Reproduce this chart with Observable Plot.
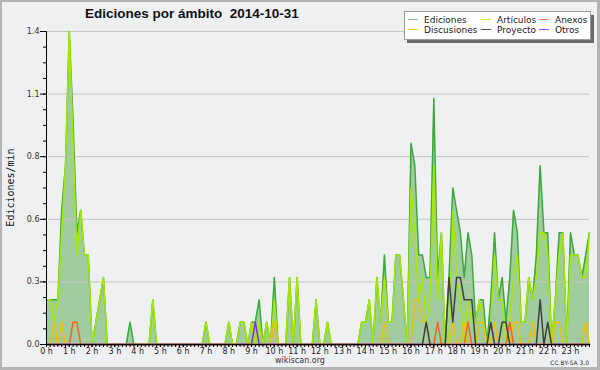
<!DOCTYPE html>
<html><head><meta charset="utf-8">
<script src="https://cdn.jsdelivr.net/npm/d3@7"></script>
<script src="https://cdn.jsdelivr.net/npm/@observablehq/plot@0.6"></script>
<style>
html,body{margin:0;padding:0;background:#fff}
#wrap{position:relative;width:600px;height:370px;background:#eff0f1;overflow:hidden}
#chart{position:absolute;left:0;top:0}
#overlay{position:absolute;left:0;top:0}
#border{position:absolute;left:0;top:0;width:600px;height:370px;box-sizing:border-box;border:2px solid #b4b4b4;border-right-width:3px;border-bottom-width:3px}
</style></head><body>
<div id="wrap"><div id="chart"></div><svg id="overlay" width="600" height="370"></svg><div id="border"></div></div>
<script>
const title = "Ediciones por ámbito  2014-10-31";
const yLabel = "Ediciones/min";
const footer = "wikiscan.org";
const license = "CC BY-SA 3.0";
const hourLabels = ["0 h","1 h","2 h","3 h","4 h","5 h","6 h","7 h","8 h","9 h","10 h","11 h",
  "12 h","13 h","14 h","15 h","16 h","17 h","18 h","19 h","20 h","21 h","22 h","23 h"];
const yTicks = [0, 0.28, 0.56, 0.84, 1.12, 1.4];
const seriesNames = ["Ediciones","Artículos","Anexos","Discusiones","Proyecto","Otros"];

// one value per 10 minutes, one row per hour
const ediciones = [
  0.2,0.2,0.2,0.2,0.6,0.8,
  1.4,1.0,0.5,0.6,0.4,0.4,
  0,0.1,0.2,0.3,0,0,
  0,0,0,0,0.1,0,
  0,0,0,0,0.2,0,
  0,0,0,0,0,0,
  0,0,0,0,0,0,
  0.1,0,0,0,0,0,
  0.1,0,0,0.1,0.1,0,
  0.1,0.1,0.2,0,0.1,0,
  0.3,0,0,0,0.3,0,
  0.3,0,0,0,0,0.2,
  0,0,0.1,0,0,0,
  0,0,0,0,0,0.1,
  0.1,0.2,0,0.3,0.1,0.4,
  0.1,0.1,0.4,0.4,0.2,0,
  0.9,0.8,0.4,0.4,0.3,0.3,
  1.1,0.3,0.5,0,0.3,0.7,
  0.6,0.5,0.3,0.5,0.4,0.1,
  0.2,0.2,0,0.2,0.5,0.2,
  0.3,0.1,0.3,0.6,0.5,0.1,
  0.1,0.3,0.2,0.4,0.8,0.5,
  0.5,0,0.2,0.5,0.5,0,
  0.5,0.4,0.4,0.3,0.4,0.5
];
const articulos = [
  0.2,0.2,0.1,0.2,0.5,0.8,
  1.4,0.9,0.4,0.6,0.4,0.4,
  0,0.1,0.2,0.3,0,0,
  0,0,0,0,0,0,
  0,0,0,0,0.2,0,
  0,0,0,0,0,0,
  0,0,0,0,0,0,
  0.1,0,0,0,0,0,
  0.1,0,0,0.1,0.1,0,
  0.1,0,0.1,0,0.1,0,
  0.2,0,0,0,0.3,0,
  0.3,0,0,0,0,0.2,
  0,0,0.1,0,0,0,
  0,0,0,0,0,0.1,
  0.1,0.2,0,0.3,0.1,0.3,
  0.1,0.1,0.4,0.4,0.2,0,
  0.7,0.5,0.2,0.3,0.1,0.2,
  0.8,0.2,0.5,0,0,0.6,
  0.3,0.2,0,0.2,0.1,0.1,
  0.2,0.1,0,0.1,0.4,0.2,
  0.2,0,0.1,0.3,0.4,0.1,
  0.1,0.3,0.2,0.3,0.5,0.5,
  0.4,0,0.2,0.4,0.5,0,
  0.4,0.4,0.4,0.3,0.3,0.5
];
const anexos = [
  0,0,0,0,0,0,
  0,0.1,0.1,0,0,0,
  0,0,0,0,0,0,
  0,0,0,0,0,0,
  0,0,0,0,0,0,
  0,0,0,0,0,0,
  0,0,0,0,0,0,
  0,0,0,0,0,0,
  0,0,0,0,0,0,
  0,0,0,0,0,0,
  0,0,0,0,0,0,
  0,0,0,0,0,0,
  0,0,0,0,0,0,
  0,0,0,0,0,0,
  0,0,0,0,0,0,
  0,0,0,0,0,0,
  0,0,0,0,0,0,
  0,0.1,0,0,0,0,
  0,0,0,0.1,0,0,
  0,0,0,0,0,0,
  0,0,0.1,0,0,0,
  0,0,0,0,0,0,
  0,0,0,0,0,0,
  0,0,0,0,0,0
];
const discusiones = [
  0,0,0.1,0,0.1,0,
  0,0,0,0,0,0,
  0,0,0,0,0,0,
  0,0,0,0,0,0,
  0,0,0,0,0,0,
  0,0,0,0,0,0,
  0,0,0,0,0,0,
  0,0,0,0,0,0,
  0,0,0,0,0,0,
  0,0,0,0,0,0,
  0.1,0,0,0,0,0,
  0,0,0,0,0,0,
  0,0,0,0,0,0,
  0,0,0,0,0,0,
  0,0,0,0,0,0.1,
  0,0,0,0,0,0,
  0,0.2,0.2,0.1,0.1,0,
  0,0,0,0,0,0.1,
  0,0,0.1,0,0,0,
  0.1,0.1,0,0,0.1,0,
  0,0,0,0.1,0.1,0,
  0,0,0.1,0,0,0,
  0,0,0.1,0.1,0,0,
  0,0,0,0,0.1,0
];
const proyecto = [
  0,0,0,0,0,0,
  0,0,0,0,0,0,
  0,0,0,0,0,0,
  0,0,0,0,0,0,
  0,0,0,0,0,0,
  0,0,0,0,0,0,
  0,0,0,0,0,0,
  0,0,0,0,0,0,
  0,0,0,0,0,0,
  0,0,0,0,0,0,
  0,0,0,0,0,0,
  0,0,0,0,0,0,
  0,0,0,0,0,0,
  0,0,0,0,0,0,
  0,0,0,0,0,0,
  0,0,0,0,0,0,
  0,0,0,0,0.1,0,
  0,0,0,0,0.3,0.1,
  0.3,0.3,0.2,0.2,0.2,0,
  0,0,0,0.1,0,0,
  0.1,0.1,0,0,0,0,
  0,0,0,0,0.2,0,
  0.1,0,0,0,0,0,
  0,0,0,0,0,0
];
const otros = [
  0,0,0,0,0,0,
  0,0,0,0,0,0,
  0,0,0,0,0,0,
  0,0,0,0,0,0,
  0,0,0,0,0,0,
  0,0,0,0,0,0,
  0,0,0,0,0,0,
  0,0,0,0,0,0,
  0,0,0,0,0,0,
  0,0.1,0,0,0,0,
  0,0,0,0,0,0,
  0,0,0,0,0,0,
  0,0,0,0,0,0,
  0,0,0,0,0,0,
  0,0,0,0,0,0,
  0,0,0,0,0,0,
  0,0,0,0,0,0,
  0,0,0,0,0,0,
  0,0,0,0,0,0,
  0,0,0,0,0,0,
  0,0,0,0,0,0,
  0,0,0,0,0,0,
  0,0,0,0,0,0,
  0,0,0,0,0,0
];

const colors = {
  Ediciones: "#3aaa3a", "Artículos": "#a8e800", Anexos: "#f26522",
  Discusiones: "#f0c000", Proyecto: "#404040", Otros: "#8a2be2"
};
const legendColors = {
  Ediciones: "#80c880", "Artículos": "#c4ec40", Anexos: "#f07848",
  Discusiones: "#f2cc40", Proyecto: "#505050", Otros: "#9048e8"
};

const X = (d, i) => i / 6;
const Y = d => d;
const minorX = d3.range(0, 144).map(i => i / 6);
const minorY = d3.range(0, 21).map(i => i * 0.07);
const lineOpts = (name) => ({x: X, y: Y, stroke: colors[name], strokeWidth: 1.5});

const chart = Plot.plot({
  width: 600, height: 370,
  marginLeft: 46, marginRight: 11, marginTop: 31, marginBottom: 26,
  style: {background: "transparent", fontFamily: "DejaVu Sans, sans-serif", color: "#000"},
  x: {domain: [0, 143 / 6], axis: null},
  y: {domain: [0, 1.4], axis: null},
  marks: [
    Plot.areaY(ediciones, {x: X, y: Y, fill: "#51a84f", fillOpacity: 0.5}),
    Plot.gridY(yTicks, {stroke: "#c4c4c4", strokeOpacity: 1}),
    Plot.lineY(ediciones, lineOpts("Ediciones")),
    Plot.lineY(articulos, lineOpts("Artículos")),
    Plot.lineY(discusiones, lineOpts("Discusiones")),
    Plot.lineY(anexos, lineOpts("Anexos")),
    Plot.lineY(proyecto, lineOpts("Proyecto")),
    Plot.lineY(otros, lineOpts("Otros")),
    Plot.ruleY([0], {stroke: "#000"}),
    Plot.ruleX([0], {stroke: "#000"}),
    Plot.axisX(minorX, {tickSize: 3, tickFormat: () => "", label: null}),
    Plot.axisX(d3.range(24), {tickSize: 3, tickPadding: 1, tickFormat: d => hourLabels[d],
      fontSize: 8, label: null, fill: "#222"}),
    Plot.axisY(minorY, {tickSize: 3, tickFormat: () => "", label: null}),
    Plot.axisY(yTicks, {tickSize: 6, tickPadding: 1, tickFormat: d3.format(".1f"),
      fontSize: 8, label: null, fill: "#333"})
  ]
});
document.getElementById("chart").appendChild(chart);

// texts and legend
const svg = d3.select("#overlay");
svg.append("text").attr("x", 85).attr("y", 18)
  .attr("font-family", "Liberation Sans, DejaVu Sans, sans-serif").attr("font-weight", "bold")
  .attr("font-size", 13.5).attr("fill", "#111").style("white-space", "pre")
  .attr("xml:space", "preserve").text(title);
svg.append("text").attr("transform", "translate(13.5,187.5) rotate(-90)")
  .attr("text-anchor", "middle").attr("font-family", "DejaVu Sans Mono, monospace")
  .attr("font-size", 10).attr("fill", "#111").text(yLabel);
svg.append("text").attr("x", 300).attr("y", 363).attr("text-anchor", "middle")
  .attr("font-family", "DejaVu Sans, sans-serif").attr("font-size", 8).attr("fill", "#333").text(footer);
svg.append("text").attr("x", 589).attr("y", 365).attr("text-anchor", "end")
  .attr("font-family", "DejaVu Sans, sans-serif").attr("font-size", 6).attr("fill", "#333").text(license);

const lg = svg.append("g");
lg.append("rect").attr("x", 407).attr("y", 15).attr("width", 187).attr("height", 28).attr("fill", "#6a6a6a");
lg.append("rect").attr("x", 404.5).attr("y", 11.5).attr("width", 186).attr("height", 28)
  .attr("fill", "#fff").attr("stroke", "#9a9a9a");
const cols = [408, 481, 539];
const rows = [19, 29];
seriesNames.forEach((name, k) => {
  const c = k % 3, r = Math.floor(k / 3);
  lg.append("line").attr("x1", cols[c]).attr("x2", cols[c] + 10)
    .attr("y1", rows[r] + 0.5).attr("y2", rows[r] + 0.5)
    .attr("stroke", legendColors[name]).attr("stroke-width", 1);
  lg.append("text").attr("x", cols[c] + 16).attr("y", rows[r] + 3.5)
    .attr("font-family", "DejaVu Sans, sans-serif").attr("font-size", 9).attr("fill", "#222").text(name);
});
</script>
</body></html>
